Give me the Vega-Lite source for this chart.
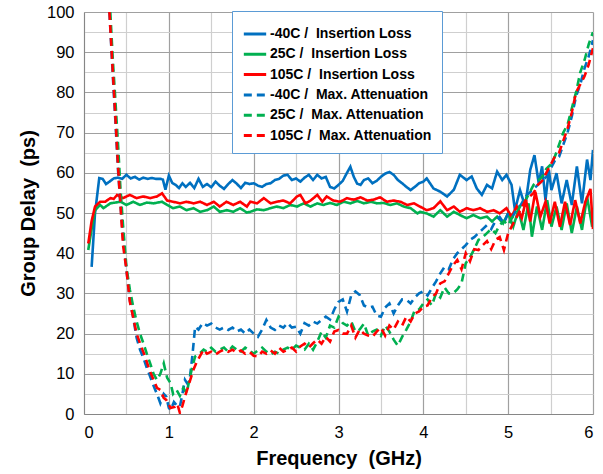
{
"$schema": "https://vega.github.io/schema/vega-lite/v6.json",
"autosize": {"type": "none"},
"width": 509, "height": 402,
"padding": {"left": 84, "top": 12, "right": 10, "bottom": 60},
"config": {"font": "Liberation Sans", "view": {"stroke": null},
 "legend": {"orient": "none", "legendX": 148, "legendY": -1, "strokeColor": "#5B9BD5", "fillColor": "#ffffff", "padding": 10, "labelFontSize": 14, "labelFontWeight": "bold", "labelColor": "#000000", "symbolType": "stroke", "symbolSize": 500, "symbolStrokeWidth": 3, "rowPadding": 0.3, "labelOffset": 2, "labelLimit": 300}},
"data": {"values": [
{"s":"B","f":0.09,"v":36.6},{"s":"B","f":0.13,"v":50},{"s":"B","f":0.18,"v":58.7},{"s":"B","f":0.22,"v":58.5},{"s":"B","f":0.26,"v":57.2},{"s":"B","f":0.3,"v":57.8},{"s":"B","f":0.35,"v":58.6},{"s":"B","f":0.4,"v":58.8},{"s":"B","f":0.45,"v":58.5},{"s":"B","f":0.5,"v":59.5},{"s":"B","f":0.55,"v":58.6},{"s":"B","f":0.6,"v":59},{"s":"B","f":0.65,"v":58.3},{"s":"B","f":0.7,"v":58.8},{"s":"B","f":0.75,"v":58.5},{"s":"B","f":0.8,"v":58.7},{"s":"B","f":0.85,"v":58.5},{"s":"B","f":0.9,"v":58.5},{"s":"B","f":0.93,"v":58.3},{"s":"B","f":0.96,"v":55.8},{"s":"B","f":1.0,"v":59.3},{"s":"B","f":1.04,"v":57.5},{"s":"B","f":1.08,"v":57},{"s":"B","f":1.12,"v":56.2},{"s":"B","f":1.16,"v":57.4},{"s":"B","f":1.2,"v":56.5},{"s":"B","f":1.25,"v":57.5},{"s":"B","f":1.3,"v":56.2},{"s":"B","f":1.35,"v":58.5},{"s":"B","f":1.4,"v":56.5},{"s":"B","f":1.45,"v":57.2},{"s":"B","f":1.5,"v":56.4},{"s":"B","f":1.55,"v":57.8},{"s":"B","f":1.6,"v":56.8},{"s":"B","f":1.65,"v":56},{"s":"B","f":1.7,"v":57.2},{"s":"B","f":1.75,"v":58.2},{"s":"B","f":1.8,"v":57.3},{"s":"B","f":1.85,"v":56.2},{"s":"B","f":1.9,"v":57.5},{"s":"B","f":1.95,"v":57.2},{"s":"B","f":2.0,"v":57.4},{"s":"B","f":2.05,"v":56.8},{"s":"B","f":2.1,"v":56.5},{"s":"B","f":2.15,"v":57.2},{"s":"B","f":2.2,"v":57.4},{"s":"B","f":2.25,"v":58.2},{"s":"B","f":2.3,"v":58.5},{"s":"B","f":2.35,"v":59.3},{"s":"B","f":2.4,"v":59.5},{"s":"B","f":2.45,"v":58.2},{"s":"B","f":2.5,"v":58.6},{"s":"B","f":2.55,"v":57.8},{"s":"B","f":2.6,"v":58.8},{"s":"B","f":2.65,"v":59.5},{"s":"B","f":2.7,"v":58.2},{"s":"B","f":2.75,"v":59.5},{"s":"B","f":2.8,"v":58.6},{"s":"B","f":2.85,"v":59},{"s":"B","f":2.9,"v":56.5},{"s":"B","f":2.95,"v":56.1},{"s":"B","f":3.0,"v":57},{"s":"B","f":3.05,"v":58},{"s":"B","f":3.1,"v":60},{"s":"B","f":3.14,"v":61.5},{"s":"B","f":3.18,"v":59},{"s":"B","f":3.22,"v":57.3},{"s":"B","f":3.26,"v":57},{"s":"B","f":3.3,"v":58.2},{"s":"B","f":3.35,"v":58.6},{"s":"B","f":3.4,"v":57.4},{"s":"B","f":3.45,"v":58},{"s":"B","f":3.5,"v":59},{"s":"B","f":3.55,"v":59.8},{"s":"B","f":3.6,"v":60.2},{"s":"B","f":3.65,"v":59.5},{"s":"B","f":3.7,"v":58.2},{"s":"B","f":3.75,"v":57.4},{"s":"B","f":3.8,"v":56.5},{"s":"B","f":3.85,"v":55.7},{"s":"B","f":3.9,"v":56.5},{"s":"B","f":3.95,"v":57.4},{"s":"B","f":4.0,"v":57.8},{"s":"B","f":4.04,"v":58.6},{"s":"B","f":4.12,"v":56.1},{"s":"B","f":4.2,"v":55.3},{"s":"B","f":4.28,"v":54.1},{"s":"B","f":4.36,"v":55.8},{"s":"B","f":4.43,"v":59.5},{"s":"B","f":4.51,"v":58.2},{"s":"B","f":4.57,"v":59.1},{"s":"B","f":4.63,"v":56.1},{"s":"B","f":4.69,"v":54.5},{"s":"B","f":4.75,"v":57},{"s":"B","f":4.81,"v":56.1},{"s":"B","f":4.87,"v":60.3},{"s":"B","f":4.93,"v":58.2},{"s":"B","f":4.98,"v":59.5},{"s":"B","f":5.04,"v":57},{"s":"B","f":5.08,"v":50.7},{"s":"B","f":5.14,"v":55.7},{"s":"B","f":5.2,"v":51.6},{"s":"B","f":5.26,"v":60.7},{"s":"B","f":5.31,"v":64.4},{"s":"B","f":5.36,"v":57.4},{"s":"B","f":5.4,"v":61.6},{"s":"B","f":5.44,"v":53.2},{"s":"B","f":5.48,"v":60.7},{"s":"B","f":5.51,"v":55.7},{"s":"B","f":5.57,"v":59.9},{"s":"B","f":5.63,"v":52.4},{"s":"B","f":5.69,"v":58.2},{"s":"B","f":5.75,"v":52},{"s":"B","f":5.81,"v":61.6},{"s":"B","f":5.87,"v":52.4},{"s":"B","f":5.93,"v":63.3},{"s":"B","f":5.97,"v":58.2},{"s":"B","f":6.0,"v":65.7},
{"s":"G","f":0.05,"v":40.8},{"s":"G","f":0.09,"v":46},{"s":"G","f":0.13,"v":50.7},{"s":"G","f":0.19,"v":52},{"s":"G","f":0.23,"v":51.2},{"s":"G","f":0.31,"v":52.4},{"s":"G","f":0.43,"v":52.8},{"s":"G","f":0.5,"v":52},{"s":"G","f":0.58,"v":52.8},{"s":"G","f":0.66,"v":52},{"s":"G","f":0.74,"v":52.6},{"s":"G","f":0.82,"v":52.4},{"s":"G","f":0.92,"v":52.8},{"s":"G","f":0.98,"v":52},{"s":"G","f":1.05,"v":51.2},{"s":"G","f":1.13,"v":51.6},{"s":"G","f":1.21,"v":50.7},{"s":"G","f":1.29,"v":51.2},{"s":"G","f":1.37,"v":50.3},{"s":"G","f":1.45,"v":50.7},{"s":"G","f":1.53,"v":51.6},{"s":"G","f":1.6,"v":50.3},{"s":"G","f":1.68,"v":50.7},{"s":"G","f":1.76,"v":50.3},{"s":"G","f":1.84,"v":51.2},{"s":"G","f":1.92,"v":50.1},{"s":"G","f":1.96,"v":50.3},{"s":"G","f":2.04,"v":50.9},{"s":"G","f":2.12,"v":50.7},{"s":"G","f":2.2,"v":51.2},{"s":"G","f":2.27,"v":51.6},{"s":"G","f":2.35,"v":51.2},{"s":"G","f":2.43,"v":52},{"s":"G","f":2.51,"v":51.6},{"s":"G","f":2.59,"v":52.4},{"s":"G","f":2.67,"v":51.6},{"s":"G","f":2.75,"v":52.4},{"s":"G","f":2.82,"v":52},{"s":"G","f":2.9,"v":52.5},{"s":"G","f":2.98,"v":52},{"s":"G","f":3.06,"v":52.8},{"s":"G","f":3.14,"v":52.4},{"s":"G","f":3.22,"v":53},{"s":"G","f":3.3,"v":52.4},{"s":"G","f":3.38,"v":52.8},{"s":"G","f":3.45,"v":52.4},{"s":"G","f":3.53,"v":52.5},{"s":"G","f":3.61,"v":52},{"s":"G","f":3.69,"v":52.4},{"s":"G","f":3.77,"v":51.6},{"s":"G","f":3.85,"v":51.2},{"s":"G","f":3.93,"v":49.9},{"s":"G","f":3.96,"v":50.3},{"s":"G","f":4.04,"v":49.9},{"s":"G","f":4.12,"v":49.1},{"s":"G","f":4.2,"v":50.7},{"s":"G","f":4.28,"v":49.1},{"s":"G","f":4.36,"v":50.3},{"s":"G","f":4.43,"v":49.5},{"s":"G","f":4.51,"v":48.7},{"s":"G","f":4.59,"v":49.5},{"s":"G","f":4.67,"v":48.7},{"s":"G","f":4.75,"v":49.1},{"s":"G","f":4.81,"v":47.9},{"s":"G","f":4.87,"v":49.1},{"s":"G","f":4.94,"v":47.4},{"s":"G","f":5.0,"v":49.9},{"s":"G","f":5.06,"v":46.6},{"s":"G","f":5.12,"v":50.7},{"s":"G","f":5.18,"v":45.8},{"s":"G","f":5.24,"v":52.4},{"s":"G","f":5.28,"v":44.1},{"s":"G","f":5.34,"v":51.6},{"s":"G","f":5.4,"v":45.8},{"s":"G","f":5.46,"v":53.2},{"s":"G","f":5.51,"v":46.6},{"s":"G","f":5.57,"v":51.6},{"s":"G","f":5.63,"v":45.8},{"s":"G","f":5.69,"v":52.4},{"s":"G","f":5.75,"v":45},{"s":"G","f":5.81,"v":51.6},{"s":"G","f":5.87,"v":45.8},{"s":"G","f":5.93,"v":54.1},{"s":"G","f":5.99,"v":46.6},
{"s":"R","f":0.05,"v":42.4},{"s":"R","f":0.09,"v":48},{"s":"R","f":0.13,"v":51.6},{"s":"R","f":0.19,"v":52.8},{"s":"R","f":0.25,"v":52.8},{"s":"R","f":0.31,"v":53.7},{"s":"R","f":0.35,"v":53.5},{"s":"R","f":0.39,"v":54.5},{"s":"R","f":0.46,"v":53.7},{"s":"R","f":0.54,"v":54.5},{"s":"R","f":0.62,"v":53.7},{"s":"R","f":0.7,"v":54.1},{"s":"R","f":0.78,"v":53.7},{"s":"R","f":0.86,"v":54.1},{"s":"R","f":0.92,"v":54.9},{"s":"R","f":0.98,"v":53.1},{"s":"R","f":1.05,"v":52.8},{"s":"R","f":1.13,"v":52.4},{"s":"R","f":1.21,"v":52.8},{"s":"R","f":1.29,"v":52.4},{"s":"R","f":1.37,"v":52.8},{"s":"R","f":1.45,"v":52},{"s":"R","f":1.53,"v":52.8},{"s":"R","f":1.6,"v":51.6},{"s":"R","f":1.68,"v":52.8},{"s":"R","f":1.76,"v":52},{"s":"R","f":1.84,"v":52.8},{"s":"R","f":1.92,"v":51.6},{"s":"R","f":1.96,"v":52.8},{"s":"R","f":2.04,"v":52.4},{"s":"R","f":2.12,"v":53.7},{"s":"R","f":2.2,"v":52.4},{"s":"R","f":2.27,"v":52.8},{"s":"R","f":2.35,"v":53.1},{"s":"R","f":2.43,"v":52.4},{"s":"R","f":2.51,"v":54.1},{"s":"R","f":2.55,"v":54.5},{"s":"R","f":2.61,"v":52.4},{"s":"R","f":2.67,"v":53.1},{"s":"R","f":2.75,"v":54.5},{"s":"R","f":2.81,"v":52.8},{"s":"R","f":2.86,"v":54.1},{"s":"R","f":2.94,"v":53.1},{"s":"R","f":3.02,"v":52.8},{"s":"R","f":3.1,"v":53.7},{"s":"R","f":3.18,"v":53.3},{"s":"R","f":3.26,"v":53.9},{"s":"R","f":3.34,"v":53.1},{"s":"R","f":3.41,"v":53.3},{"s":"R","f":3.49,"v":53.9},{"s":"R","f":3.57,"v":52.8},{"s":"R","f":3.65,"v":53.1},{"s":"R","f":3.73,"v":52.8},{"s":"R","f":3.81,"v":52},{"s":"R","f":3.89,"v":52.4},{"s":"R","f":3.96,"v":51.6},{"s":"R","f":4.04,"v":50.7},{"s":"R","f":4.12,"v":51.2},{"s":"R","f":4.2,"v":52.9},{"s":"R","f":4.28,"v":50.7},{"s":"R","f":4.36,"v":51.6},{"s":"R","f":4.43,"v":50.3},{"s":"R","f":4.51,"v":51.2},{"s":"R","f":4.59,"v":50.7},{"s":"R","f":4.67,"v":51.2},{"s":"R","f":4.75,"v":50.3},{"s":"R","f":4.83,"v":50.7},{"s":"R","f":4.9,"v":49.9},{"s":"R","f":4.98,"v":51.2},{"s":"R","f":5.04,"v":49.1},{"s":"R","f":5.1,"v":51.6},{"s":"R","f":5.16,"v":48.7},{"s":"R","f":5.21,"v":53.2},{"s":"R","f":5.26,"v":47.9},{"s":"R","f":5.32,"v":55.3},{"s":"R","f":5.38,"v":49.1},{"s":"R","f":5.44,"v":52.8},{"s":"R","f":5.49,"v":47.4},{"s":"R","f":5.55,"v":52.8},{"s":"R","f":5.61,"v":46.6},{"s":"R","f":5.67,"v":52.8},{"s":"R","f":5.73,"v":47},{"s":"R","f":5.79,"v":53.2},{"s":"R","f":5.85,"v":47.4},{"s":"R","f":5.91,"v":52.8},{"s":"R","f":5.97,"v":56},{"s":"R","f":6.0,"v":46},
{"s":"b","f":0.3,"v":100},{"s":"b","f":0.34,"v":84},{"s":"b","f":0.37,"v":73},{"s":"b","f":0.4,"v":61},{"s":"b","f":0.43,"v":52},{"s":"b","f":0.46,"v":44.1},{"s":"b","f":0.5,"v":36},{"s":"b","f":0.54,"v":28.4},{"s":"b","f":0.58,"v":24},{"s":"b","f":0.62,"v":19},{"s":"b","f":0.66,"v":16},{"s":"b","f":0.7,"v":14},{"s":"b","f":0.74,"v":11.5},{"s":"b","f":0.78,"v":9.3},{"s":"b","f":0.82,"v":7},{"s":"b","f":0.86,"v":5},{"s":"b","f":0.9,"v":2.7},{"s":"b","f":0.94,"v":5},{"s":"b","f":0.97,"v":4.3},{"s":"b","f":1.0,"v":1.5},{"s":"b","f":1.02,"v":1},{"s":"b","f":1.06,"v":3},{"s":"b","f":1.1,"v":2},{"s":"b","f":1.13,"v":1.8},{"s":"b","f":1.16,"v":5},{"s":"b","f":1.19,"v":8.5},{"s":"b","f":1.22,"v":7.5},{"s":"b","f":1.25,"v":9.3},{"s":"b","f":1.28,"v":15},{"s":"b","f":1.31,"v":21.7},{"s":"b","f":1.35,"v":21},{"s":"b","f":1.4,"v":22.6},{"s":"b","f":1.45,"v":22},{"s":"b","f":1.5,"v":22.5},{"s":"b","f":1.55,"v":21.5},{"s":"b","f":1.6,"v":21},{"s":"b","f":1.65,"v":21.5},{"s":"b","f":1.7,"v":20.9},{"s":"b","f":1.75,"v":21.5},{"s":"b","f":1.8,"v":20.5},{"s":"b","f":1.85,"v":21},{"s":"b","f":1.9,"v":20},{"s":"b","f":1.95,"v":21},{"s":"b","f":2.0,"v":20},{"s":"b","f":2.05,"v":19.2},{"s":"b","f":2.1,"v":21},{"s":"b","f":2.15,"v":23.4},{"s":"b","f":2.2,"v":21.5},{"s":"b","f":2.25,"v":20.9},{"s":"b","f":2.3,"v":22},{"s":"b","f":2.35,"v":21.5},{"s":"b","f":2.4,"v":22.6},{"s":"b","f":2.45,"v":21.5},{"s":"b","f":2.5,"v":21.7},{"s":"b","f":2.55,"v":20},{"s":"b","f":2.6,"v":22.6},{"s":"b","f":2.65,"v":22},{"s":"b","f":2.7,"v":23},{"s":"b","f":2.75,"v":22.5},{"s":"b","f":2.8,"v":23.4},{"s":"b","f":2.85,"v":24.2},{"s":"b","f":2.9,"v":23.5},{"s":"b","f":2.95,"v":26},{"s":"b","f":3.0,"v":27.9},{"s":"b","f":3.05,"v":28.5},{"s":"b","f":3.1,"v":25.5},{"s":"b","f":3.15,"v":29.5},{"s":"b","f":3.2,"v":30.5},{"s":"b","f":3.25,"v":29.6},{"s":"b","f":3.3,"v":27},{"s":"b","f":3.35,"v":26.5},{"s":"b","f":3.4,"v":26.7},{"s":"b","f":3.45,"v":24.5},{"s":"b","f":3.5,"v":24.2},{"s":"b","f":3.55,"v":26.5},{"s":"b","f":3.6,"v":27.5},{"s":"b","f":3.65,"v":25},{"s":"b","f":3.7,"v":27},{"s":"b","f":3.75,"v":28.5},{"s":"b","f":3.8,"v":28.4},{"s":"b","f":3.85,"v":27.5},{"s":"b","f":3.9,"v":29},{"s":"b","f":3.95,"v":30},{"s":"b","f":4.0,"v":30.5},{"s":"b","f":4.05,"v":29.5},{"s":"b","f":4.1,"v":31.3},{"s":"b","f":4.15,"v":33},{"s":"b","f":4.2,"v":35},{"s":"b","f":4.25,"v":36.6},{"s":"b","f":4.3,"v":36},{"s":"b","f":4.35,"v":38.5},{"s":"b","f":4.4,"v":40},{"s":"b","f":4.45,"v":41},{"s":"b","f":4.5,"v":42},{"s":"b","f":4.55,"v":43.3},{"s":"b","f":4.6,"v":44},{"s":"b","f":4.65,"v":45},{"s":"b","f":4.7,"v":46},{"s":"b","f":4.75,"v":47},{"s":"b","f":4.8,"v":46},{"s":"b","f":4.85,"v":48},{"s":"b","f":4.9,"v":49},{"s":"b","f":4.95,"v":47.5},{"s":"b","f":5.0,"v":50},{"s":"b","f":5.05,"v":49},{"s":"b","f":5.1,"v":51},{"s":"b","f":5.15,"v":52},{"s":"b","f":5.2,"v":54},{"s":"b","f":5.25,"v":55},{"s":"b","f":5.3,"v":56},{"s":"b","f":5.35,"v":57},{"s":"b","f":5.4,"v":58},{"s":"b","f":5.45,"v":59},{"s":"b","f":5.5,"v":61},{"s":"b","f":5.55,"v":63},{"s":"b","f":5.6,"v":64},{"s":"b","f":5.65,"v":67},{"s":"b","f":5.7,"v":70},{"s":"b","f":5.75,"v":74},{"s":"b","f":5.8,"v":79},{"s":"b","f":5.85,"v":82},{"s":"b","f":5.9,"v":86},{"s":"b","f":5.95,"v":89},{"s":"b","f":6.0,"v":93},
{"s":"g","f":0.31,"v":100},{"s":"g","f":0.34,"v":88},{"s":"g","f":0.37,"v":78},{"s":"g","f":0.405,"v":65.7},{"s":"g","f":0.43,"v":56},{"s":"g","f":0.46,"v":47},{"s":"g","f":0.5,"v":36.6},{"s":"g","f":0.54,"v":31},{"s":"g","f":0.58,"v":26.7},{"s":"g","f":0.62,"v":23},{"s":"g","f":0.66,"v":20},{"s":"g","f":0.7,"v":17.6},{"s":"g","f":0.74,"v":15},{"s":"g","f":0.78,"v":12.6},{"s":"g","f":0.82,"v":10},{"s":"g","f":0.86,"v":8.5},{"s":"g","f":0.9,"v":10},{"s":"g","f":0.94,"v":12.6},{"s":"g","f":0.98,"v":9},{"s":"g","f":1.02,"v":7.7},{"s":"g","f":1.05,"v":5},{"s":"g","f":1.09,"v":6},{"s":"g","f":1.13,"v":4.5},{"s":"g","f":1.17,"v":6.5},{"s":"g","f":1.21,"v":5.2},{"s":"g","f":1.25,"v":9.3},{"s":"g","f":1.28,"v":12},{"s":"g","f":1.31,"v":14.3},{"s":"g","f":1.36,"v":15},{"s":"g","f":1.41,"v":16},{"s":"g","f":1.45,"v":15.5},{"s":"g","f":1.5,"v":16.5},{"s":"g","f":1.55,"v":15.5},{"s":"g","f":1.6,"v":16},{"s":"g","f":1.65,"v":16.5},{"s":"g","f":1.7,"v":15.5},{"s":"g","f":1.75,"v":16.8},{"s":"g","f":1.8,"v":16},{"s":"g","f":1.85,"v":15.5},{"s":"g","f":1.9,"v":16.5},{"s":"g","f":1.95,"v":15.8},{"s":"g","f":2.0,"v":15},{"s":"g","f":2.05,"v":15.8},{"s":"g","f":2.1,"v":16.5},{"s":"g","f":2.15,"v":15.5},{"s":"g","f":2.2,"v":14.8},{"s":"g","f":2.25,"v":15.5},{"s":"g","f":2.3,"v":15},{"s":"g","f":2.35,"v":16},{"s":"g","f":2.4,"v":16.5},{"s":"g","f":2.45,"v":16},{"s":"g","f":2.5,"v":17},{"s":"g","f":2.55,"v":16.5},{"s":"g","f":2.6,"v":16},{"s":"g","f":2.65,"v":17.5},{"s":"g","f":2.7,"v":16},{"s":"g","f":2.75,"v":18},{"s":"g","f":2.8,"v":20.5},{"s":"g","f":2.85,"v":19},{"s":"g","f":2.9,"v":22},{"s":"g","f":2.95,"v":21.5},{"s":"g","f":3.0,"v":24.2},{"s":"g","f":3.05,"v":22.6},{"s":"g","f":3.1,"v":22},{"s":"g","f":3.15,"v":23},{"s":"g","f":3.2,"v":20.5},{"s":"g","f":3.25,"v":21},{"s":"g","f":3.3,"v":22.5},{"s":"g","f":3.35,"v":19.5},{"s":"g","f":3.4,"v":20.5},{"s":"g","f":3.45,"v":21},{"s":"g","f":3.5,"v":19.5},{"s":"g","f":3.55,"v":22},{"s":"g","f":3.6,"v":20.5},{"s":"g","f":3.65,"v":18.5},{"s":"g","f":3.7,"v":17},{"s":"g","f":3.75,"v":19.2},{"s":"g","f":3.8,"v":21},{"s":"g","f":3.85,"v":23},{"s":"g","f":3.9,"v":25.9},{"s":"g","f":3.95,"v":26},{"s":"g","f":4.0,"v":27.5},{"s":"g","f":4.05,"v":28.5},{"s":"g","f":4.1,"v":27},{"s":"g","f":4.15,"v":30},{"s":"g","f":4.2,"v":29},{"s":"g","f":4.25,"v":31.5},{"s":"g","f":4.3,"v":30},{"s":"g","f":4.35,"v":30},{"s":"g","f":4.4,"v":31},{"s":"g","f":4.45,"v":32.5},{"s":"g","f":4.5,"v":37.5},{"s":"g","f":4.55,"v":39},{"s":"g","f":4.6,"v":41},{"s":"g","f":4.65,"v":43.3},{"s":"g","f":4.7,"v":44},{"s":"g","f":4.75,"v":45},{"s":"g","f":4.8,"v":46},{"s":"g","f":4.85,"v":45},{"s":"g","f":4.9,"v":47},{"s":"g","f":4.95,"v":48},{"s":"g","f":5.0,"v":47},{"s":"g","f":5.05,"v":49},{"s":"g","f":5.1,"v":50},{"s":"g","f":5.15,"v":52},{"s":"g","f":5.2,"v":53},{"s":"g","f":5.25,"v":55},{"s":"g","f":5.3,"v":57},{"s":"g","f":5.35,"v":58},{"s":"g","f":5.4,"v":59},{"s":"g","f":5.45,"v":61},{"s":"g","f":5.5,"v":62},{"s":"g","f":5.55,"v":64},{"s":"g","f":5.6,"v":67},{"s":"g","f":5.65,"v":70},{"s":"g","f":5.7,"v":72},{"s":"g","f":5.75,"v":76},{"s":"g","f":5.8,"v":80},{"s":"g","f":5.85,"v":85},{"s":"g","f":5.9,"v":88},{"s":"g","f":5.95,"v":92},{"s":"g","f":6.0,"v":95},
{"s":"r","f":0.3,"v":100},{"s":"r","f":0.34,"v":85},{"s":"r","f":0.37,"v":74},{"s":"r","f":0.4,"v":62},{"s":"r","f":0.43,"v":52},{"s":"r","f":0.46,"v":42},{"s":"r","f":0.5,"v":36},{"s":"r","f":0.54,"v":28},{"s":"r","f":0.58,"v":24},{"s":"r","f":0.62,"v":20},{"s":"r","f":0.67,"v":17},{"s":"r","f":0.72,"v":14.3},{"s":"r","f":0.77,"v":11},{"s":"r","f":0.82,"v":8.5},{"s":"r","f":0.86,"v":6.5},{"s":"r","f":0.9,"v":6},{"s":"r","f":0.94,"v":4},{"s":"r","f":0.97,"v":3.5},{"s":"r","f":1.02,"v":1.5},{"s":"r","f":1.07,"v":1.8},{"s":"r","f":1.1,"v":2.5},{"s":"r","f":1.13,"v":0.3},{"s":"r","f":1.16,"v":2},{"s":"r","f":1.19,"v":4.3},{"s":"r","f":1.23,"v":7},{"s":"r","f":1.26,"v":9},{"s":"r","f":1.29,"v":11},{"s":"r","f":1.33,"v":13},{"s":"r","f":1.37,"v":14.5},{"s":"r","f":1.41,"v":16},{"s":"r","f":1.45,"v":15},{"s":"r","f":1.5,"v":15.5},{"s":"r","f":1.55,"v":14.8},{"s":"r","f":1.6,"v":15.5},{"s":"r","f":1.65,"v":16},{"s":"r","f":1.7,"v":15.5},{"s":"r","f":1.75,"v":16},{"s":"r","f":1.8,"v":15.3},{"s":"r","f":1.85,"v":15.8},{"s":"r","f":1.9,"v":15},{"s":"r","f":1.95,"v":15.5},{"s":"r","f":2.0,"v":14.5},{"s":"r","f":2.05,"v":14.3},{"s":"r","f":2.1,"v":15.5},{"s":"r","f":2.15,"v":15},{"s":"r","f":2.2,"v":15.8},{"s":"r","f":2.25,"v":15},{"s":"r","f":2.3,"v":16.5},{"s":"r","f":2.35,"v":15.5},{"s":"r","f":2.4,"v":16},{"s":"r","f":2.45,"v":16.5},{"s":"r","f":2.5,"v":15.5},{"s":"r","f":2.55,"v":16.8},{"s":"r","f":2.6,"v":17.5},{"s":"r","f":2.65,"v":16.5},{"s":"r","f":2.7,"v":17.6},{"s":"r","f":2.75,"v":18.5},{"s":"r","f":2.8,"v":17.5},{"s":"r","f":2.85,"v":19.2},{"s":"r","f":2.9,"v":18},{"s":"r","f":2.95,"v":20.5},{"s":"r","f":3.0,"v":20.9},{"s":"r","f":3.05,"v":20},{"s":"r","f":3.1,"v":20},{"s":"r","f":3.15,"v":22},{"s":"r","f":3.2,"v":19},{"s":"r","f":3.25,"v":21},{"s":"r","f":3.3,"v":20},{"s":"r","f":3.35,"v":19.5},{"s":"r","f":3.4,"v":19.2},{"s":"r","f":3.45,"v":20.5},{"s":"r","f":3.5,"v":21.5},{"s":"r","f":3.55,"v":19.5},{"s":"r","f":3.6,"v":22},{"s":"r","f":3.65,"v":21},{"s":"r","f":3.7,"v":23},{"s":"r","f":3.75,"v":22},{"s":"r","f":3.8,"v":24.2},{"s":"r","f":3.85,"v":23},{"s":"r","f":3.9,"v":25},{"s":"r","f":3.95,"v":25.5},{"s":"r","f":4.0,"v":26.7},{"s":"r","f":4.05,"v":27},{"s":"r","f":4.1,"v":29},{"s":"r","f":4.15,"v":30},{"s":"r","f":4.2,"v":32.5},{"s":"r","f":4.25,"v":33},{"s":"r","f":4.3,"v":35},{"s":"r","f":4.35,"v":37},{"s":"r","f":4.4,"v":38.3},{"s":"r","f":4.45,"v":36},{"s":"r","f":4.5,"v":40},{"s":"r","f":4.55,"v":38},{"s":"r","f":4.6,"v":41},{"s":"r","f":4.65,"v":40.8},{"s":"r","f":4.7,"v":42},{"s":"r","f":4.75,"v":43},{"s":"r","f":4.8,"v":41},{"s":"r","f":4.85,"v":43.3},{"s":"r","f":4.9,"v":44},{"s":"r","f":4.95,"v":40.8},{"s":"r","f":5.0,"v":45},{"s":"r","f":5.05,"v":47},{"s":"r","f":5.1,"v":49},{"s":"r","f":5.15,"v":51},{"s":"r","f":5.2,"v":53},{"s":"r","f":5.25,"v":54},{"s":"r","f":5.3,"v":55},{"s":"r","f":5.35,"v":57},{"s":"r","f":5.4,"v":58},{"s":"r","f":5.45,"v":60},{"s":"r","f":5.5,"v":62},{"s":"r","f":5.55,"v":64},{"s":"r","f":5.6,"v":65},{"s":"r","f":5.65,"v":68},{"s":"r","f":5.7,"v":71},{"s":"r","f":5.75,"v":75},{"s":"r","f":5.8,"v":80},{"s":"r","f":5.85,"v":82},{"s":"r","f":5.9,"v":84},{"s":"r","f":5.95,"v":87},{"s":"r","f":6.0,"v":91}
]},
"mark": {"type": "line", "strokeWidth": 2.6, "clip": true},
"encoding": {
 "x": {"field": "f", "type": "quantitative", "scale": {"domain": [0, 6], "nice": false},
  "axis": {"title": "Frequency\u00a0 (GHz)", "titleFontSize": 20, "titleFontWeight": "bold", "titleColor": "#000", "titlePadding": 8,
   "values": [0,0.5,1,1.5,2,2.5,3,3.5,4,4.5,5,5.5,6], "labelExpr": "datum.value % 1 == 0 ? format(datum.value, 'd') : ''",
   "labelFontSize": 16.5, "labelColor": "#000", "labelPadding": 10, "labelOverlap": false, "ticks": false,
   "domainColor": "#868686", "domainWidth": 1,
   "gridColor": {"condition": {"test": "datum.value % 1 == 0", "value": "#a0a0a0"}, "value": "#cfcfcf"}, "gridWidth": 1.2}},
 "y": {"field": "v", "type": "quantitative", "scale": {"domain": [0, 100], "nice": false},
  "axis": {"title": "Group Delay\u00a0 (ps)", "titleFontSize": 20, "titleFontWeight": "bold", "titleColor": "#000", "titlePadding": 8,
   "values": [0,5,10,15,20,25,30,35,40,45,50,55,60,65,70,75,80,85,90,95,100], "labelExpr": "datum.value % 10 == 0 ? format(datum.value, 'd') : ''",
   "labelFontSize": 16.5, "labelColor": "#000", "labelPadding": 10, "labelOverlap": false, "ticks": false,
   "domainColor": "#868686", "domainWidth": 1,
   "gridColor": {"condition": {"test": "datum.value % 10 == 0", "value": "#a0a0a0"}, "value": "#cfcfcf"}, "gridWidth": 1.2}},
 "color": {"field": "s", "type": "nominal", "title": null,
  "scale": {"domain": ["B","G","R","b","g","r"], "range": ["#0070C0","#00B050","#FF0000","#0070C0","#00B050","#FF0000"]},
  "legend": {"labelExpr": "datum.label == 'B' ? '-40C /\u00a0 Insertion Loss' : datum.label == 'G' ? '25C /\u00a0 Insertion Loss' : datum.label == 'R' ? '105C /\u00a0 Insertion Loss' : datum.label == 'b' ? '-40C /\u00a0 Max. Attenuation' : datum.label == 'g' ? '25C /\u00a0 Max. Attenuation' : '105C /\u00a0 Max. Attenuation'"}},
 "strokeDash": {"field": "s", "type": "nominal", "title": null,
  "scale": {"domain": ["B","G","R","b","g","r"], "range": [[1,0],[1,0],[1,0],[8,5],[8,5],[8,5]]},
  "legend": {"labelExpr": "datum.label == 'B' ? '-40C /\u00a0 Insertion Loss' : datum.label == 'G' ? '25C /\u00a0 Insertion Loss' : datum.label == 'R' ? '105C /\u00a0 Insertion Loss' : datum.label == 'b' ? '-40C /\u00a0 Max. Attenuation' : datum.label == 'g' ? '25C /\u00a0 Max. Attenuation' : '105C /\u00a0 Max. Attenuation'"}}
}
}
